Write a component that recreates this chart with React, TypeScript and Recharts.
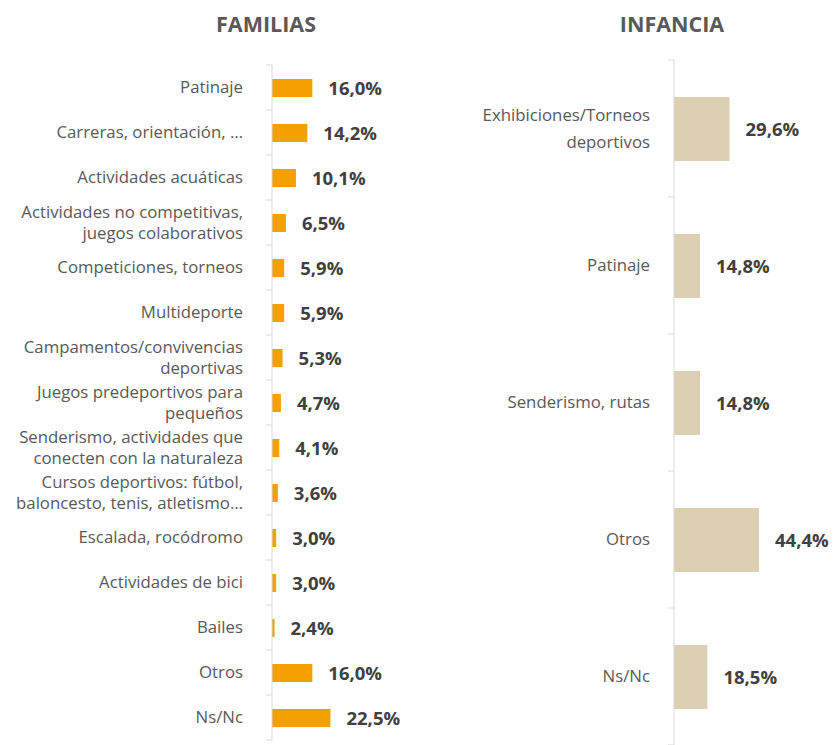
import { BarChart, Bar, XAxis, YAxis, LabelList } from "recharts";

const familiasCategories = [
  "Patinaje",
  "Carreras, orientación, …",
  "Actividades acuáticas",
  "Actividades no competitivas,\njuegos colaborativos",
  "Competiciones, torneos",
  "Multideporte",
  "Campamentos/convivencias\ndeportivas",
  "Juegos predeportivos para\npequeños",
  "Senderismo, actividades que\nconecten con la naturaleza",
  "Cursos deportivos: fútbol,\nbaloncesto, tenis, atletismo…",
  "Escalada, rocódromo",
  "Actividades de bici",
  "Bailes",
  "Otros",
  "Ns/Nc",
];
const familiasValues = [16.0, 14.2, 10.1, 6.5, 5.9, 5.9, 5.3, 4.7, 4.1, 3.6, 3.0, 3.0, 2.4, 16.0, 22.5];

const infanciaCategories = [
  "Exhibiciones/Torneos\ndeportivos",
  "Patinaje",
  "Senderismo, rutas",
  "Otros",
  "Ns/Nc",
];
const infanciaValues = [29.6, 14.8, 14.8, 44.4, 18.5];

const FONT = "'Open Sans', sans-serif";
const AXIS = "#d9d9d9";
const HEIGHT = 745;
const TICK_FONT = 16.8;

const fmt = (v: number) => v.toFixed(1).replace(".", ",") + "%";

function makeTick(gap: number, band: number, count: number, lineHeight: number) {
  return function CategoryTick(props: any) {
    const { x, y, payload, index } = props;
    const lines = String(payload.value).split("\n");
    const first = -((lines.length - 1) / 2) * lineHeight + TICK_FONT * 0.35;
    return (
      <g>
        <line x1={x - 6} x2={x} y1={y - band / 2} y2={y - band / 2} stroke={AXIS} />
        {index === count - 1 && (
          <line x1={x - 6} x2={x} y1={y + band / 2} y2={y + band / 2} stroke={AXIS} />
        )}
        <text x={x - gap} y={y} textAnchor="end" fill="#595959" fontSize={TICK_FONT} fontFamily={FONT}>
          {lines.map((l, i) => (
            <tspan key={i} x={x - gap} dy={i === 0 ? first : lineHeight}>
              {l}
            </tspan>
          ))}
        </text>
      </g>
    );
  };
}

function Panel(props: {
  categories: string[];
  values: number[];
  width: number;
  axisWidth: number;
  top: number;
  bottom: number;
  right: number;
  domain: [number, number];
  barSize: number;
  color: string;
  gap: number;
  lineHeight: number;
}) {
  const { categories, values, width, axisWidth, top, bottom, right, domain, barSize, color, gap, lineHeight } = props;
  const data = categories.map((name, i) => ({ name, value: values[i] }));
  const band = (HEIGHT - top - bottom) / categories.length;
  return (
    <BarChart
      width={width}
      height={HEIGHT}
      data={data}
      layout="vertical"
      margin={{ top, right, bottom, left: 0 }}
    >
      <XAxis type="number" hide domain={domain} allowDataOverflow />
      <YAxis
        dataKey="name"
        type="category"
        width={axisWidth}
        axisLine={{ stroke: AXIS }}
        tickLine={false}
        tickSize={0}
        tickMargin={0}
        interval={0}
        tick={makeTick(gap, band, categories.length, lineHeight)}
      />
      <Bar dataKey="value" fill={color} barSize={barSize} isAnimationActive={false}>
        <LabelList
          dataKey="value"
          position="right"
          offset={16}
          formatter={(v: any) => fmt(Number(v))}
          fill="#404040"
          fontSize={18.5}
          fontWeight="bold"
          fontFamily={FONT}
        />
      </Bar>
    </BarChart>
  );
}

const titleStyle: React.CSSProperties = {
  position: "absolute",
  top: 13,
  width: 200,
  textAlign: "center",
  fontFamily: FONT,
  fontWeight: 700,
  fontSize: 21.5,
  lineHeight: "21.5px",
  color: "#595959",
};

export default function App() {
  return (
    <div style={{ position: "absolute", left: 0, top: 0, width: 834, height: HEIGHT, background: "#fff" }}>
      <div style={{ ...titleStyle, left: 166 }}>FAMILIAS</div>
      <div style={{ ...titleStyle, left: 572 }}>INFANCIA</div>
      <div style={{ position: "absolute", left: 0, top: 0 }}>
        <Panel
          categories={familiasCategories}
          values={familiasValues}
          width={420}
          axisWidth={272}
          top={65}
          bottom={5}
          right={13}
          domain={[1.5, 50]}
          barSize={18}
          color="#f4a100"
          gap={29}
          lineHeight={21}
        />
      </div>
      <div style={{ position: "absolute", left: 420, top: 0 }}>
        <Panel
          categories={infanciaCategories}
          values={infanciaValues}
          width={414}
          axisWidth={254}
          top={60}
          bottom={0}
          right={4}
          domain={[1.75, 80]}
          barSize={64}
          color="#ddcfb2"
          gap={24}
          lineHeight={27}
        />
      </div>
    </div>
  );
}
